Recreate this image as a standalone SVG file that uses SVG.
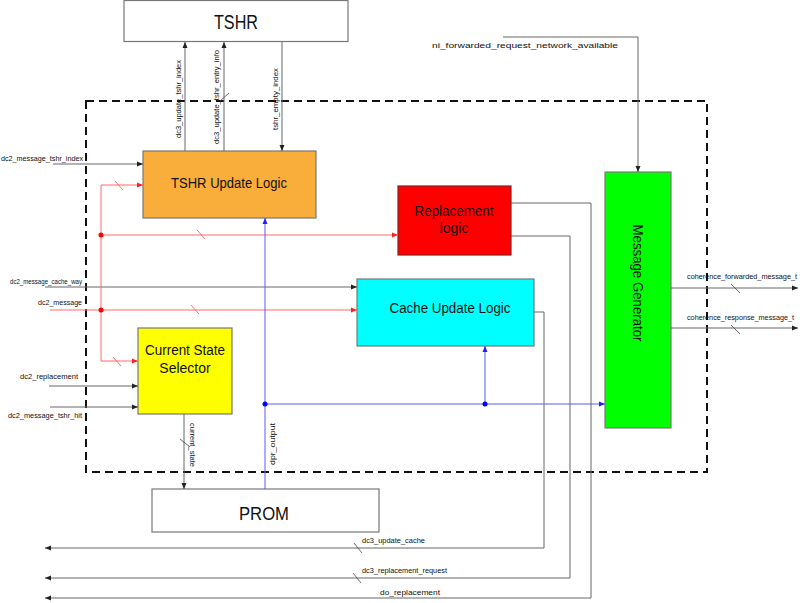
<svg xmlns="http://www.w3.org/2000/svg" width="800" height="603" viewBox="0 0 800 603">
<style>
.box{stroke:#777;stroke-width:1.2}
.big{font-family:"Liberation Sans",Arial,sans-serif;fill:#111;text-anchor:middle}
.lbl{font-family:"Liberation Sans",Arial,sans-serif;font-size:7.5px;fill:#111}
.g{fill:none;stroke:#666;stroke-width:1}
.r{fill:none;stroke:#ff6a6a;stroke-width:1}
.b{fill:none;stroke:#5a5aff;stroke-width:1}
.tk{stroke:#444;stroke-width:0.8}
.rtk{stroke:#ff5050;stroke-width:0.8}
</style>
<defs>
<marker id="ag" markerUnits="userSpaceOnUse" markerWidth="6" markerHeight="6" refX="6" refY="3" orient="auto"><path d="M0,0.5 L6,3 L0,5.5 z" fill="#222"/></marker>
<marker id="ar" markerUnits="userSpaceOnUse" markerWidth="6" markerHeight="6" refX="6" refY="3" orient="auto"><path d="M0,0.5 L6,3 L0,5.5 z" fill="#ff2020"/></marker>
<marker id="ab" markerUnits="userSpaceOnUse" markerWidth="6" markerHeight="6" refX="6" refY="3" orient="auto"><path d="M0,0.5 L6,3 L0,5.5 z" fill="#2020ff"/></marker>
</defs>
<rect width="800" height="603" fill="#fff"/>

<rect id="boundary" x="86" y="101" width="621" height="371" fill="none" stroke="#111" stroke-width="2" stroke-dasharray="8,5"/>

<g id="tshr">
<rect class="box" x="124" y="0.5" width="224" height="41" fill="#fff"/>
<text class="big" x="236" y="29" font-size="20" textLength="44" lengthAdjust="spacingAndGlyphs">TSHR</text>
</g>
<g id="tshr_update_logic">
<rect class="box" x="143" y="151" width="173" height="67" fill="#f9ae3b"/>
<text class="big" x="229" y="188" font-size="14" textLength="116" lengthAdjust="spacingAndGlyphs">TSHR Update Logic</text>
</g>
<g id="replacement_logic">
<rect x="398" y="186" width="113" height="69" fill="#ff0000" stroke="#8a2020" stroke-width="1.2"/>
<text class="big" x="454" y="216" font-size="14" textLength="79" lengthAdjust="spacingAndGlyphs">Replacement</text>
<text class="big" x="454" y="233" font-size="14">logic</text>
</g>
<g id="cache_update_logic">
<rect class="box" x="357" y="279" width="177" height="67" fill="#00ffff"/>
<text class="big" x="450" y="313" font-size="14" textLength="121" lengthAdjust="spacingAndGlyphs">Cache Update Logic</text>
</g>
<g id="current_state_selector">
<rect class="box" x="138" y="328" width="94" height="86" fill="#ffff00"/>
<text class="big" x="185" y="355" font-size="14" textLength="80" lengthAdjust="spacingAndGlyphs">Current State</text>
<text class="big" x="185" y="373" font-size="14">Selector</text>
</g>
<g id="message_generator">
<rect class="box" x="605" y="172" width="66" height="256" fill="#00ff00"/>
<text class="big" x="638" y="283" font-size="14" dy="0.35em" transform="rotate(90 638 283)" textLength="117" lengthAdjust="spacingAndGlyphs">Message Generator</text>
</g>
<g id="prom">
<rect class="box" x="152" y="489" width="227" height="43" fill="#fff"/>
<text class="big" x="264" y="520" font-size="19" textLength="50" lengthAdjust="spacingAndGlyphs">PROM</text>
</g>

<g id="connectors">
<line class="g" x1="185" y1="151" x2="185" y2="42" marker-end="url(#ag)"/>
<line class="g" x1="224" y1="151" x2="224" y2="42" marker-end="url(#ag)"/>
<line class="tk" x1="220" y1="101" x2="229" y2="93"/>
<line class="g" x1="282" y1="42" x2="282" y2="151" marker-end="url(#ag)"/>
<line class="g" x1="53" y1="164" x2="143" y2="164" marker-end="url(#ag)"/>
<line class="g" x1="45" y1="287" x2="357" y2="287" marker-end="url(#ag)"/>
<line class="g" x1="49" y1="386" x2="138" y2="386" marker-end="url(#ag)"/>
<line class="g" x1="50" y1="407" x2="138" y2="407" marker-end="url(#ag)"/>
<line class="r" x1="50" y1="310" x2="357" y2="310" marker-end="url(#ar)"/>
<polyline class="r" points="101,185 101,361 138,361" marker-end="url(#ar)"/>
<line class="r" x1="101" y1="185" x2="143" y2="185" marker-end="url(#ar)"/>
<line class="r" x1="101" y1="235" x2="398" y2="235" marker-end="url(#ar)"/>
<circle cx="101" cy="235" r="2.5" fill="#ff0000"/>
<circle cx="101" cy="310" r="2.5" fill="#ff0000"/>
<line class="rtk" x1="115" y1="181" x2="123" y2="190"/>
<line class="rtk" x1="197" y1="230" x2="205" y2="239"/>
<line class="rtk" x1="191" y1="305" x2="199" y2="314"/>
<line class="rtk" x1="113" y1="357" x2="121" y2="366"/>
<line class="g" x1="184" y1="414" x2="184" y2="489" marker-end="url(#ag)"/>
<line class="tk" x1="180" y1="439" x2="190" y2="447"/>
<line class="b" x1="265" y1="489" x2="265" y2="218" marker-end="url(#ab)"/>
<line class="b" x1="265" y1="404" x2="605" y2="404" marker-end="url(#ab)"/>
<line class="b" x1="485" y1="404" x2="485" y2="346" marker-end="url(#ab)"/>
<circle cx="265" cy="404" r="2.5" fill="#0000ff"/>
<circle cx="485" cy="404" r="2.5" fill="#0000ff"/>
<polyline class="g" points="503,37 638,37 638,172" marker-end="url(#ag)"/>
<line class="g" x1="671" y1="288" x2="798" y2="288" marker-end="url(#ag)"/>
<line class="tk" x1="731" y1="284" x2="740" y2="293"/>
<line class="g" x1="671" y1="328" x2="798" y2="328" stroke="#999" marker-end="url(#ag)"/>
<line class="tk" x1="731" y1="325" x2="740" y2="334"/>
<polyline class="g" points="534,312 544,312 544,548 45,548" marker-end="url(#ag)"/>
<line class="tk" x1="354" y1="543" x2="362" y2="553"/>
<polyline class="g" points="511,236 570,236 570,578 45,578" stroke="#888" marker-end="url(#ag)"/>
<line class="tk" x1="353" y1="573" x2="361" y2="583"/>
<polyline class="g" points="511,203 591,203 591,598 45,598" stroke="#888" marker-end="url(#ag)"/>
</g>

<g id="labels">
<text class="lbl" x="180.5" y="99" text-anchor="middle" transform="rotate(-90 180.5 99)" textLength="78" lengthAdjust="spacingAndGlyphs">dc3_update_tshr_index</text>
<text class="lbl" x="219" y="97" text-anchor="middle" transform="rotate(-90 219 97)" textLength="94" lengthAdjust="spacingAndGlyphs">dc3_update_tshr_entry_info</text>
<text class="lbl" x="278" y="99" text-anchor="middle" transform="rotate(-90 278 99)" textLength="62" lengthAdjust="spacingAndGlyphs">tshr_empty_index</text>
<text class="lbl" x="1" y="161" textLength="82" lengthAdjust="spacingAndGlyphs">dc2_message_tshr_index</text>
<text class="lbl" x="10" y="284" textLength="72" lengthAdjust="spacingAndGlyphs">dc2_message_cache_way</text>
<text class="lbl" x="38" y="305" textLength="44" lengthAdjust="spacingAndGlyphs">dc2_message</text>
<text class="lbl" x="20" y="379" textLength="58" lengthAdjust="spacingAndGlyphs">dc2_replacement</text>
<text class="lbl" x="8" y="418" textLength="74" lengthAdjust="spacingAndGlyphs">dc2_message_tshr_hit</text>
<text class="lbl" x="190" y="445" text-anchor="middle" transform="rotate(90 190 445)" textLength="44" lengthAdjust="spacingAndGlyphs">current_state</text>
<text class="lbl" x="275" y="444" text-anchor="middle" transform="rotate(-90 275 444)" textLength="42" lengthAdjust="spacingAndGlyphs">dpr_output</text>
<text class="lbl" x="432" y="48" font-size="9.5px" textLength="186" lengthAdjust="spacingAndGlyphs">ni_forwarded_request_network_available</text>
<text class="lbl" x="687" y="279" textLength="110" lengthAdjust="spacingAndGlyphs">coherence_forwarded_message_t</text>
<text class="lbl" x="687" y="320" textLength="107" lengthAdjust="spacingAndGlyphs">coherence_response_message_t</text>
<text class="lbl" x="362" y="543" textLength="63" lengthAdjust="spacingAndGlyphs">dc3_update_cache</text>
<text class="lbl" x="362" y="573" textLength="85" lengthAdjust="spacingAndGlyphs">dc3_replacement_request</text>
<text class="lbl" x="380" y="595" font-size="8px" textLength="60" lengthAdjust="spacingAndGlyphs">do_replacement</text>
</g>
</svg>
